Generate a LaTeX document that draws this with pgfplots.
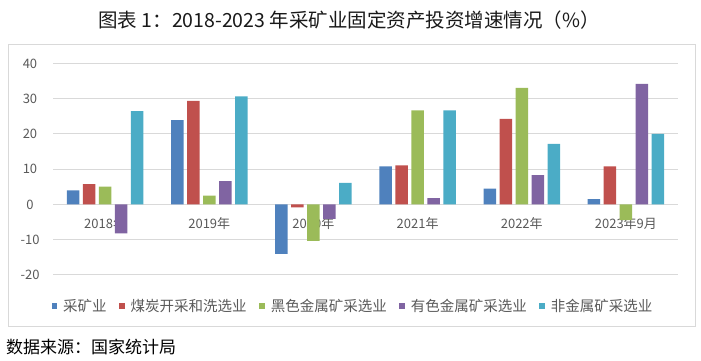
\documentclass[border=0pt]{standalone}
\usepackage{fontspec}
\setmainfont{Noto Sans CJK SC}
\usepackage{pgfplots}
\pgfplotsset{compat=1.18}
\definecolor{cblue}{HTML}{4F81BD}
\definecolor{cred}{HTML}{C0504D}
\definecolor{cgreen}{HTML}{9BBB59}
\definecolor{cpurple}{HTML}{8064A2}
\definecolor{ccyan}{HTML}{4BACC6}
\definecolor{tgray}{HTML}{595959}
\definecolor{ggray}{HTML}{D9D9D9}
\begin{document}
\begin{tikzpicture}
\useasboundingbox (0,0) rectangle (701bp,361bp);
\draw[ggray, line width=1bp] (8bp,34bp) rectangle (695bp,316bp);
\node[anchor=center, text=black!90, font=\fontsize{19.5bp}{22bp}\selectfont] at (349bp,341bp) {图表 1：2018-2023 年采矿业固定资产投资增速情况（\%）};
\node[anchor=west, text=black, font=\fontsize{17bp}{19bp}\selectfont, inner sep=0pt] at (6bp,14bp) {数据来源：国家统计局};
\begin{axis}[
  at={(53bp,86bp)}, anchor=south west,
  scale only axis, width=625bp, height=211.5bp,
  xmin=-0.5, xmax=5.5, ymin=-20, ymax=40,
  ytick={-20,-10,0,10,20,30,40},
  xtick={0,1,2,3,4,5},
  xticklabels={2018年,2019年,2020年,2021年,2022年,2023年9月},
  ybar=3.5bp, bar width=12.5bp,
  axis line style={draw=none},
  major tick length=0pt,
  ymajorgrids, grid style={ggray, line width=1bp},
  /pgf/number format/assume math mode=true,
  tick label style={text=tgray, font=\fontsize{13bp}{15bp}\selectfont},
  yticklabel style={anchor=center, xshift=-23bp},
  xticklabel style={anchor=center, yshift=51bp},
  legend columns=5,
  legend style={at={(axis description cs:0.48,-0.1466)}, anchor=center, draw=none, fill=none,
    font=\fontsize{14.5bp}{17bp}\selectfont, text=tgray,
    /tikz/every odd column/.append style={column sep=4bp},
    /tikz/every even column/.append style={column sep=10.5bp}},
  legend image code/.code={\fill[#1,draw=none] (0bp,-2.8bp) rectangle (5.6bp,2.8bp);},
]
\addplot[fill=cblue, draw=none] coordinates {(0,4.0) (1,23.9) (2,-14.0) (3,10.8) (4,4.5) (5,1.5)};
\addplot[fill=cred, draw=none] coordinates {(0,5.8) (1,29.4) (2,-0.8) (3,11.1) (4,24.3) (5,10.8)};
\addplot[fill=cgreen, draw=none] coordinates {(0,5.1) (1,2.5) (2,-10.3) (3,26.7) (4,33.1) (5,-4.4)};
\addplot[fill=cpurple, draw=none] coordinates {(0,-8.2) (1,6.6) (2,-4.1) (3,1.8) (4,8.3) (5,34.2)};
\addplot[fill=ccyan, draw=none] coordinates {(0,26.5) (1,30.7) (2,6.1) (3,26.7) (4,17.2) (5,20.0)};
\legend{采矿业,煤炭开采和洗选业,黑色金属矿采选业,有色金属矿采选业,非金属矿采选业}
\end{axis}
\end{tikzpicture}
\end{document}
